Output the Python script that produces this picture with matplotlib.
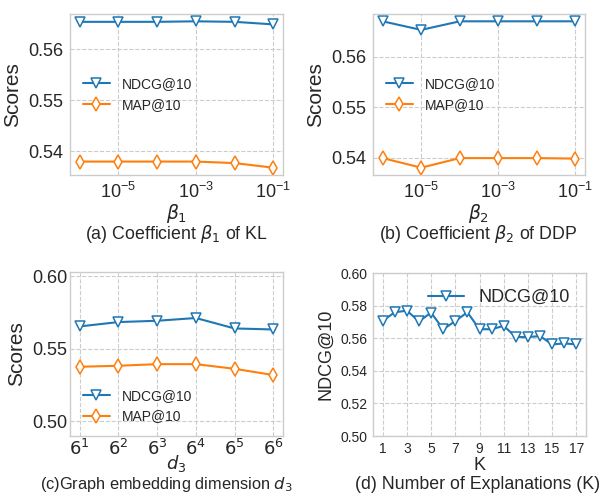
import matplotlib
matplotlib.use("Agg")
import matplotlib.pyplot as plt

plt.style.use("seaborn-v0_8-whitegrid")
plt.rcParams.update({
    "font.family": ["Liberation Sans", "DejaVu Sans"],
    "mathtext.fontset": "dejavusans",
    "axes.edgecolor": "#cccccc",
    "axes.linewidth": 1.0,
    "grid.linestyle": "--",
    "grid.color": "#cccccc",
    "grid.linewidth": 0.8,
    "axes.unicode_minus": False,
})

BLUE = "#1f77b4"
ORANGE = "#ff7f0e"

# data
beta_vals = [1e-6, 1e-5, 1e-4, 1e-3, 1e-2, 1e-1]
ndcg_b1 = [0.5654, 0.5654, 0.5654, 0.5655, 0.5654, 0.5649]
map_b1 = [0.5380, 0.5380, 0.5380, 0.5380, 0.5377, 0.5368]
ndcg_b2 = [0.5670, 0.5653, 0.5670, 0.5670, 0.5670, 0.5670]
map_b2 = [0.5399, 0.5380, 0.5399, 0.5399, 0.5399, 0.5398]

d3_pos = [1, 2, 3, 4, 5, 6]
d3_labels = [r"$6^{%d}$" % i for i in d3_pos]
ndcg_d3 = [0.5655, 0.5685, 0.5694, 0.5713, 0.5641, 0.5634]
map_d3 = [0.5377, 0.5384, 0.5395, 0.5395, 0.5363, 0.5320]

k_vals = list(range(1, 18))
ndcg_k = [0.5707, 0.5759, 0.5769, 0.5703, 0.5757, 0.5655, 0.5705, 0.5759,
          0.5655, 0.5655, 0.5676, 0.5607, 0.5607, 0.5613, 0.5562, 0.5568, 0.5562]

W, H = 605, 494
fig = plt.figure(figsize=(W / 100, H / 100), dpi=100)


def add_ax(x0, y0, x1, y1):
    return fig.add_axes([x0 / W, 1 - y1 / H, (x1 - x0) / W, (y1 - y0) / H])


ndcg_style = dict(color=BLUE, marker="v", markersize=6.5, markerfacecolor="white",
                  markeredgewidth=1.1, linewidth=1.5)
map_style = dict(color=ORANGE, marker="d", markersize=7.5, markerfacecolor="white",
                 markeredgewidth=1.1, linewidth=1.5)
CAP = 12.8

# (a)
ax = add_ax(70, 14, 283, 175)
ax.plot(beta_vals, ndcg_b1, label="NDCG@10", **ndcg_style)
ax.plot(beta_vals, map_b1, label="MAP@10", **map_style)
ax.set_xscale("log")
ax.set_xticks([1e-5, 1e-3, 1e-1])
ax.minorticks_off()
ax.set_yticks([0.54, 0.55, 0.56])
ax.tick_params(labelsize=13, length=0, pad=5)
ax.set_xlabel(r"$\beta_1$", fontsize=13.5, labelpad=0)
ax.set_ylabel("Scores", fontsize=15)
ax.legend(loc="center left", fontsize=10, frameon=False)
fig.text(176 / W, 1 - 234 / H, r"(a) Coefficient $\beta_1$ of KL", ha="center",
         va="center", fontsize=CAP)

# (b)
ax = add_ax(373, 14, 585, 175)
ax.plot(beta_vals, ndcg_b2, label="NDCG@10", **ndcg_style)
ax.plot(beta_vals, map_b2, label="MAP@10", **map_style)
ax.set_xscale("log")
ax.set_xticks([1e-5, 1e-3, 1e-1])
ax.minorticks_off()
ax.set_yticks([0.54, 0.55, 0.56])
ax.tick_params(labelsize=13, length=0, pad=5)
ax.set_xlabel(r"$\beta_2$", fontsize=13.5, labelpad=0)
ax.set_ylabel("Scores", fontsize=15)
ax.legend(loc="center left", fontsize=10, frameon=False)
fig.text(478 / W, 1 - 234 / H, r"(b) Coefficient $\beta_2$ of DDP", ha="center",
         va="center", fontsize=CAP)

# (c)
ax = add_ax(70, 272, 283, 436)
ax.plot(d3_pos, ndcg_d3, label="NDCG@10", **ndcg_style)
ax.plot(d3_pos, map_d3, label="MAP@10", **map_style)
ax.set_xticks(d3_pos)
ax.set_xticklabels(d3_labels)
ax.set_ylim(0.49, 0.603)
ax.set_yticks([0.50, 0.55, 0.60])
ax.tick_params(labelsize=13, length=0, pad=2)
ax.set_xlabel(r"$d_3$", fontsize=13, labelpad=-4)
ax.set_ylabel("Scores", fontsize=15)
ax.legend(loc="lower left", fontsize=10, frameon=False)
fig.text(166 / W, 1 - 484 / H, r"(c)Graph embedding dimension $d_3$", ha="center",
         va="center", fontsize=11.8)

# (d)
ax = add_ax(373, 273, 586, 436)
ax.plot(k_vals, ndcg_k, label="NDCG@10", **ndcg_style)
ax.set_xticks(k_vals[::2])
ax.set_ylim(0.50, 0.60)
ax.set_yticks([0.50, 0.52, 0.54, 0.56, 0.58, 0.60])
ax.tick_params(labelsize=10, length=0, pad=4)
ax.set_xlabel("K", fontsize=13, labelpad=1)
ax.set_ylabel("NDCG@10", fontsize=13)
ax.legend(loc="upper right", fontsize=13, frameon=False)
fig.text(478 / W, 1 - 484 / H, "(d) Number of Explanations (K)", ha="center",
         va="center", fontsize=CAP)

fig.savefig("out.png", dpi=100)
